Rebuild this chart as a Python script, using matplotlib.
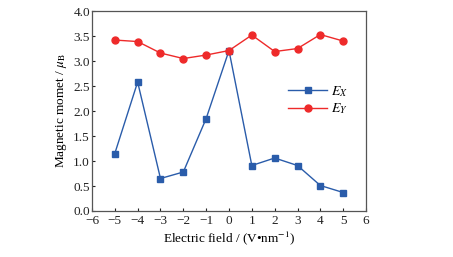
import matplotlib
matplotlib.use('Agg')
import matplotlib.pyplot as plt

plt.rcParams['font.family'] = ['Liberation Serif', 'DejaVu Serif']
plt.rcParams['mathtext.fontset'] = 'stix'

# 数据
field = [-5, -4, -3, -2, -1, 0, 1, 2, 3, 4, 5]
ex = [1.15, 2.58, 0.65, 0.78, 1.85, 3.21, 0.91, 1.06, 0.91, 0.51, 0.37]
ey = [3.42, 3.39, 3.16, 3.05, 3.12, 3.21, 3.52, 3.19, 3.25, 3.53, 3.40]

fig = plt.figure(figsize=(4.53, 2.57), dpi=100)
ax = fig.add_axes([0.203, 0.179, 0.605, 0.778])

ax.plot(field, ex, color='#2a5caa', marker='s', markersize=4.5, linewidth=1.0, label='$E_X$')
ax.plot(field, ey, color='#ee2a2a', marker='o', markersize=5, linewidth=1.0, label='$E_Y$')

ax.set_xlim(-6, 6)
ax.set_ylim(0, 4.0)
ax.set_xticks(range(-6, 7))
ax.set_xticklabels(['\u22126', '\u22125', '\u22124', '\u22123', '\u22122', '\u22121',
                    '0', '1', '2', '3', '4', '5', '6'])
ax.set_yticks([0, 0.5, 1.0, 1.5, 2.0, 2.5, 3.0, 3.5, 4.0])
ax.set_yticklabels(['%.1f' % v for v in ax.get_yticks()])
ax.tick_params(direction='in', length=2, labelsize=9.5, colors='#222222')
ax.tick_params(axis='y', pad=1.5)
ax.tick_params(axis='x', pad=3)
for s in ax.spines.values():
    s.set_color('#555555')
    s.set_linewidth(0.9)

ax.set_xlabel('Electric field / (V\u2022nm$^{-1}$)', fontsize=9.5, labelpad=2)
ax.set_ylabel(r'Magnetic momet / $\mu_{\mathrm{B}}$', fontsize=9.5, labelpad=3)

ax.legend(loc='center left', bbox_to_anchor=(0.67, 0.555), frameon=False,
          fontsize=10, handlelength=2.8, labelspacing=0.2, handletextpad=0.3)

fig.savefig('out.png', dpi=100)
